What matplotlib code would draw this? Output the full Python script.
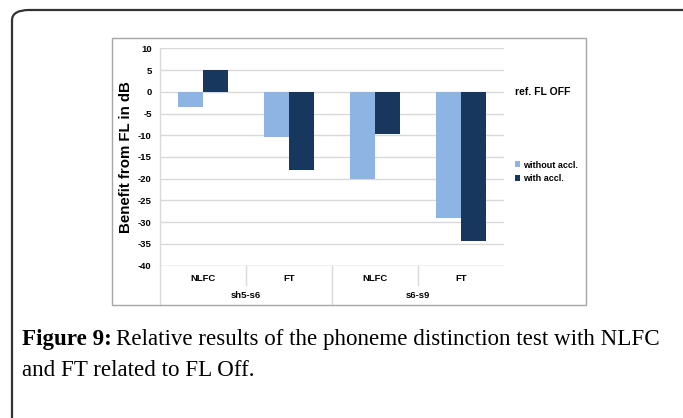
import numpy as np
import matplotlib
matplotlib.use("Agg")
import matplotlib.pyplot as plt
from matplotlib.patches import Rectangle, FancyBboxPatch
from matplotlib.transforms import blended_transform_factory

groups = ["sh5-s6", "s6-s9"]
categories = ["NLFC", "FT", "NLFC", "FT"]
without_accl = [-3.5, -10.5, -20.0, -29.0]
with_accl = [5.0, -18.0, -9.7, -34.4]
yticks = [10, 5, 0, -5, -10, -15, -20, -25, -30, -35, -40]

W, H = 683, 418
LIGHT = "#8DB4E2"
DARK = "#17375E"

plt.rcParams['font.family'] = ['Liberation Sans', 'DejaVu Sans']

fig = plt.figure(figsize=(W / 100, H / 100), dpi=100)

def px(x0, y0, x1, y1):
    return [x0 / W, 1 - y1 / H, (x1 - x0) / W, (y1 - y0) / H]

# outer frame (top and left edges with rounded corner)
frame = FancyBboxPatch((12 / W, -0.2), 1.2, 1 - 10 / H + 0.2,
                       boxstyle="round,pad=0,rounding_size=0.025",
                       transform=fig.transFigure, fill=False,
                       edgecolor="#333333", lw=1.6)
fig.patches.append(frame)

# chart box
box = Rectangle((112 / W, 1 - 305 / H), (586 - 112) / W, (305 - 38) / H,
                transform=fig.transFigure, fill=False,
                edgecolor="#A6A6A6", lw=1.0)
fig.patches.append(box)

ax = fig.add_axes(px(160, 48.3, 504, 265.7))
x = np.arange(len(categories))
bw = 0.287
ax.bar(x - bw / 2, without_accl, bw, color=LIGHT, label="without accl.", zorder=3)
ax.bar(x + bw / 2, with_accl, bw, color=DARK, label="with accl.", zorder=3)

ax.set_xlim(-0.5, len(categories) - 0.5)
ax.set_ylim(-40, 10)
ax.set_yticks(yticks)
ax.set_yticklabels([str(v) for v in yticks], fontsize=6.8, fontweight="bold")
ax.yaxis.grid(True, color="#D9D9D9", lw=1.0, zorder=0)
ax.tick_params(axis="y", length=0, pad=6)
ax.tick_params(axis="x", length=0, pad=6)
ax.set_xticks(x)
ax.set_xticklabels(categories, fontsize=6.8, fontweight="bold")
for s in ["top", "right", "bottom"]:
    ax.spines[s].set_visible(False)
ax.spines["left"].set_color("#D9D9D9")
ax.spines["left"].set_linewidth(1.0)
ax.axhline(-40, color="#D9D9D9", lw=1.0, zorder=1)

# category separators and group labels
tr = blended_transform_factory(ax.transData, ax.transAxes)
ybot_long = -(305 - 265.7) / (265.7 - 48.3)
ybot_short = -(285 - 265.7) / (265.7 - 48.3)
for i in range(len(categories)):
    b = i - 0.5
    yb = ybot_long if i % 2 == 0 else ybot_short
    ax.plot([b, b], [0, yb], transform=tr, color="#D9D9D9", lw=1.0, clip_on=False)
for g, name in enumerate(groups):
    ax.text(2 * g + 0.5, -(295.5 - 265.7) / (265.7 - 48.3), name, transform=tr,
            ha="center", va="center", fontsize=6.8, fontweight="bold")

ax.set_ylabel("Benefit from FL in dB", fontsize=10.8, fontweight="bold")
ax.yaxis.set_label_coords((133 - 160) / 344, 0.5)

fig.text(515 / W, 1 - 92 / H, "ref. FL OFF", fontsize=7.5, fontweight="bold",
         ha="left", va="center")
ax.legend(loc="upper left", bbox_to_anchor=(510 / W, 1 - 156 / H),
          bbox_transform=fig.transFigure, frameon=False,
          handlelength=0.6, handleheight=0.6, handletextpad=0.3,
          labelspacing=0.5, borderpad=0, prop={"weight": "bold", "size": 6.5})

cap_size = 16.6
t1 = fig.text(22 / W, 1 - 340 / H, "Figure 9:", fontsize=cap_size, fontweight="bold",
              family=["Liberation Serif"], ha="left", va="center")
fig.canvas.draw()
bb = t1.get_window_extent(fig.canvas.get_renderer())
fig.text((bb.x1 + 4) / W, 1 - 340 / H,
         "Relative results of the phoneme distinction test with NLFC",
         fontsize=cap_size, family=["Liberation Serif"], ha="left", va="center")
fig.text(22 / W, 1 - 370 / H, "and FT related to FL Off.", fontsize=cap_size,
         family=["Liberation Serif"], ha="left", va="center")

fig.savefig("out.png", dpi=100)
